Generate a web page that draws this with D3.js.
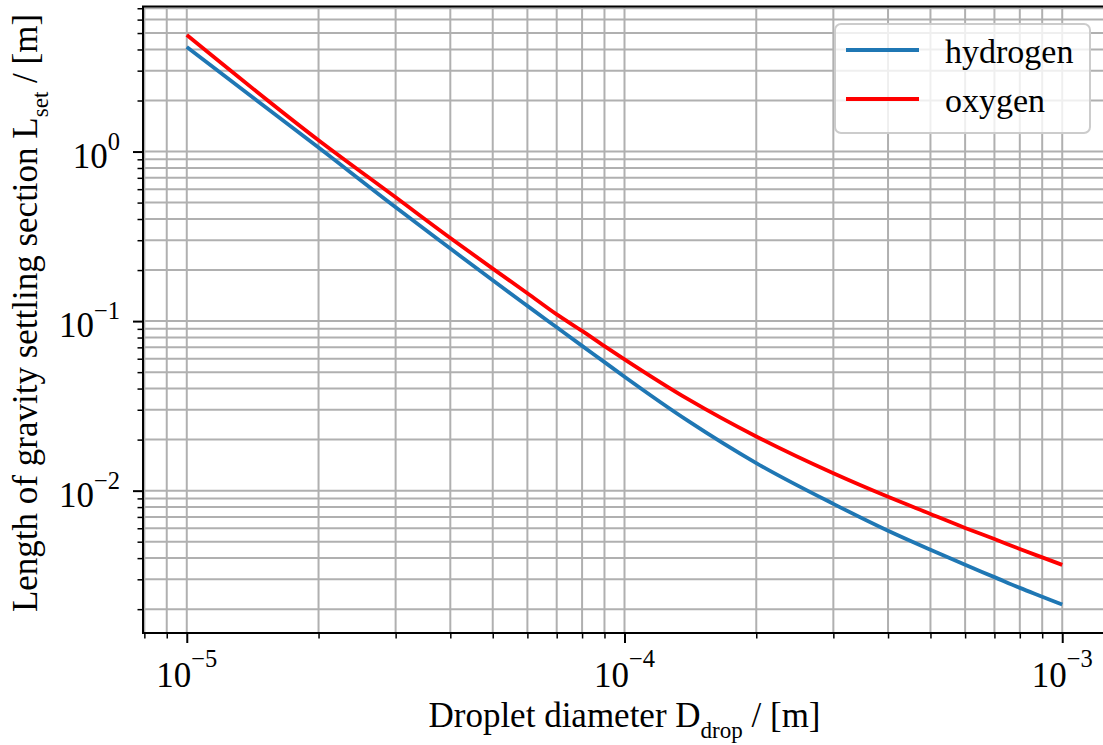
<!DOCTYPE html>
<html>
<head>
<meta charset="utf-8">
<script src="https://cdn.jsdelivr.net/npm/d3@7"></script>
<style>
    body { margin: 0; background: #ffffff; }
    svg { display: block; font-family: "Liberation Serif", "Times New Roman", serif; }
</style>
</head>
<body>
<svg id="chart" width="1103" height="745"></svg>
<script>
// droplet diameter D_drop [m]
var diameters = [1e-5, 2e-5, 3e-5, 4e-5, 5e-5, 6e-5, 7e-5, 8e-5, 9e-5, 1e-4,
    1.4e-4, 2e-4, 3e-4, 4e-4, 5e-4, 6e-4, 7e-4, 8e-4, 9e-4, 1e-3];

// length of gravity settling section L_set [m]
var hydrogen = [4.13, 1.055, 0.469, 0.268, 0.174, 0.123, 0.0919, 0.0714, 0.0573, 0.0470,
    0.0257, 0.01454, 0.00836, 0.00580, 0.00448, 0.00365, 0.00309, 0.00267, 0.00237, 0.00213];
var oxygen = [4.87, 1.166, 0.537, 0.309, 0.204, 0.146, 0.1095, 0.0875, 0.0712, 0.0595,
    0.0345, 0.02085, 0.01265, 0.00919, 0.00729, 0.00603, 0.00518, 0.00453, 0.00404, 0.00365];

var seriesNames = ["hydrogen", "oxygen"];
var seriesColors = ["#1f77b4", "#ff0000"];

var xTickExponents = [-5, -4, -3];
var yTickExponents = [-2, -1, 0];

var svg = d3.select("#chart"),
    margin = {top: 6.5, left: 143},
    width = 963,
    height = 626.5,
    g = svg.append("g").attr("transform", "translate(" + margin.left + "," + margin.top + ")");

// log domains padded by 5% like matplotlib does
var padLog = function (lo, hi) {
    var a = Math.log10(lo), b = Math.log10(hi), p = (b - a) * 0.05;
    return [Math.pow(10, a - p), Math.pow(10, b + p)];
};

var x = d3.scaleLog()
    .domain(padLog(d3.min(diameters), d3.max(diameters)))
    .range([0, width]);

var y = d3.scaleLog()
    .domain(padLog(d3.min(hydrogen.concat(oxygen)), d3.max(hydrogen.concat(oxygen))))
    .range([height, 0]);

// major and minor tick positions inside the domain
var logTicks = function (scale) {
    var d = scale.domain(), major = [], minor = [];
    for (var e = Math.floor(Math.log10(d[0])) - 1; e <= Math.ceil(Math.log10(d[1])); e++) {
        for (var k = 1; k < 10; k++) {
            var v = k * Math.pow(10, e);
            if (v < d[0] * 0.9999 || v > d[1] * 1.0001) continue;
            if (k == 1) major.push(v); else minor.push(v);
        }
    }
    return {major: major, minor: minor};
};

var xt = logTicks(x), yt = logTicks(y);

// grid, both major and minor
var grid = g.append("g")
    .attr("stroke", "#b0b0b0")
    .attr("stroke-width", 2);

xt.major.concat(xt.minor).forEach(function (v) {
    grid.append("line")
        .attr("x1", x(v)).attr("x2", x(v))
        .attr("y1", 0).attr("y2", height);
});
yt.major.concat(yt.minor).forEach(function (v) {
    grid.append("line")
        .attr("x1", 0).attr("x2", width)
        .attr("y1", y(v)).attr("y2", y(v));
});

// curves
var line = d3.line()
    .x(function (d) { return x(d[0]); })
    .y(function (d) { return y(d[1]); })
    .curve(d3.curveMonotoneX);

[hydrogen, oxygen].forEach(function (vals, i) {
    g.append("path")
        .datum(diameters.map(function (dd, j) { return [dd, vals[j]]; }))
        .attr("fill", "none")
        .attr("stroke", seriesColors[i])
        .attr("stroke-width", 3.8)
        .attr("stroke-linejoin", "round")
        .attr("d", line);
});

// axes (ticks only, labels drawn below)
g.append("g")
    .attr("transform", "translate(0," + height + ")")
    .call(d3.axisBottom(x).tickValues(xt.major).tickSize(10).tickSizeOuter(0).tickFormat(""))
    .call(function (a) { a.selectAll("line").attr("stroke-width", 2); a.select(".domain").remove(); });
g.append("g")
    .attr("transform", "translate(0," + height + ")")
    .call(d3.axisBottom(x).tickValues(xt.minor).tickSize(5.5).tickSizeOuter(0).tickFormat(""))
    .call(function (a) { a.selectAll("line").attr("stroke-width", 1.5); a.select(".domain").remove(); });
g.append("g")
    .call(d3.axisLeft(y).tickValues(yt.major).tickSize(10).tickSizeOuter(0).tickFormat(""))
    .call(function (a) { a.selectAll("line").attr("stroke-width", 2); a.select(".domain").remove(); });
g.append("g")
    .call(d3.axisLeft(y).tickValues(yt.minor).tickSize(5.5).tickSizeOuter(0).tickFormat(""))
    .call(function (a) { a.selectAll("line").attr("stroke-width", 1.5); a.select(".domain").remove(); });

// spines
g.append("path")
    .attr("fill", "none")
    .attr("stroke", "#000")
    .attr("stroke-width", 2)
    .attr("d", "M" + width + ",0H0V" + height + "H" + width + "V0");

// tick labels 10^n
xTickExponents.forEach(function (e) {
    var t = g.append("text")
        .attr("x", x(Math.pow(10, e)))
        .attr("y", height + 54)
        .attr("text-anchor", "middle")
        .style("font-size", "35px")
        .text("10");
    t.append("tspan")
        .attr("dy", -20)
        .style("font-size", "24.5px")
        .text((e < 0 ? "\u2212" : "") + Math.abs(e));
});
yTickExponents.forEach(function (e) {
    var t = g.append("text")
        .attr("x", -23)
        .attr("y", y(Math.pow(10, e)) + 16)
        .attr("text-anchor", "end")
        .style("font-size", "35px")
        .text("10");
    t.append("tspan")
        .attr("dy", -18)
        .style("font-size", "24.5px")
        .text((e < 0 ? "\u2212" : "") + Math.abs(e));
});

// text label for the x axis
var xl = svg.append("text")
    .attr("x", margin.left + width / 2)
    .attr("y", 727)
    .attr("text-anchor", "middle")
    .style("font-size", "35px")
    .text("Droplet diameter D");
xl.append("tspan").attr("dy", 11).style("font-size", "23px").text("drop");
xl.append("tspan").attr("dy", -11).text(" / [m]");

// text label for the y axis
var yl = svg.append("text")
    .attr("transform", "translate(37,313) rotate(-90)")
    .attr("text-anchor", "middle")
    .style("font-size", "35px")
    .text("Length of gravity settling section L");
yl.append("tspan").attr("dy", 11).style("font-size", "23px").text("set");
yl.append("tspan").attr("dy", -11).text(" / [m]");

// legend
var legend = svg.append("g");
legend.append("rect")
    .attr("x", 835).attr("y", 24)
    .attr("width", 255).attr("height", 109)
    .attr("rx", 6)
    .attr("fill", "#ffffff")
    .attr("fill-opacity", 0.8)
    .attr("stroke", "#cccccc")
    .attr("stroke-width", 2);

seriesNames.forEach(function (name, i) {
    var ly = 50 + i * 49;
    legend.append("line")
        .attr("x1", 846).attr("x2", 919)
        .attr("y1", ly).attr("y2", ly)
        .attr("stroke", seriesColors[i])
        .attr("stroke-width", 3.8);
    legend.append("text")
        .attr("x", 945)
        .attr("y", ly + 13)
        .style("font-size", "34px")
        .text(name);
});
</script>
</body>
</html>
